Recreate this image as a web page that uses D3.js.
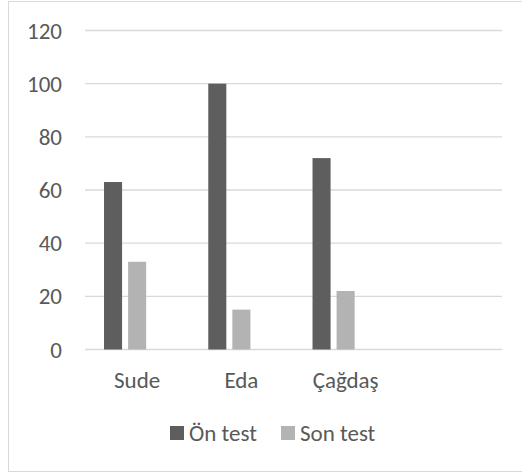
<!DOCTYPE html>
<html>
<head>
<meta charset="utf-8">
<script src="https://cdn.jsdelivr.net/npm/d3@7"></script>
<style>
  html, body { margin: 0; background: #fff; overflow: hidden; }
  svg { display: block; }
  text { font-family: Carlito, Calibri, "Open Sans", sans-serif; fill: #595959; }
</style>
</head>
<body>
<div id="chart"></div>
<script>
// Chart data
const categories = ["Sude", "Eda", "Çağdaş", ""];
const seriesNames = ["Ön test", "Son test", ""];
const onTest = [63, 100, 72, null];
const sonTest = [33, 15, 22, null];
const extra = [null, null, null, null];
const yTicks = [0, 20, 40, 60, 80, 100, 120];
const colors = ["#5e5e5e", "#b3b3b3", "#7f7f7f"];

const width = 522;
const height = 473;
const fontSize = "23px";

const svg = d3.select("#chart")
    .append("svg")
    .attr("width", width)
    .attr("height", height);

// Outer chart border
svg.append("rect")
    .attr("x", 8.5)
    .attr("y", 1.5)
    .attr("width", 530)
    .attr("height", 470)
    .attr("fill", "none")
    .attr("stroke", "#d9d9d9");

const x = d3.scaleBand()
    .domain(categories.map((d, i) => i))
    .range([85, 502])
    .paddingInner(0)
    .paddingOuter(0);

const y = d3.scaleLinear()
    .domain([0, 120])
    .range([349.5, 30.5]);

// Gridlines
svg.append("g")
    .selectAll("line")
    .data(yTicks)
    .join("line")
    .attr("x1", 85)
    .attr("x2", 502)
    .attr("y1", d => y(d))
    .attr("y2", d => y(d))
    .attr("stroke", "#d9d9d9")
    .attr("stroke-width", 1.3);

// Y tick labels
svg.append("g")
    .selectAll("text")
    .data(yTicks)
    .join("text")
    .attr("x", 62)
    .attr("y", d => y(d))
    .attr("dy", "0.35em")
    .attr("text-anchor", "end")
    .style("font-size", fontSize)
    .text(d => d);

// Series inside each category: 3 slots (third is empty)
const series = [onTest, sonTest, extra];
const x1 = d3.scaleBand()
    .domain(d3.range(series.length))
    .range([0, x.bandwidth()])
    .paddingInner(0.25)
    .paddingOuter(0.79);

series.forEach((vals, s) => {
    svg.append("g")
        .selectAll("rect")
        .data(vals.map((v, i) => ({ v, i })).filter(d => d.v != null))
        .join("rect")
        .attr("x", d => x(d.i) + x1(s))
        .attr("y", d => y(d.v))
        .attr("width", x1.bandwidth())
        .attr("height", d => y(0) - y(d.v))
        .attr("fill", colors[s]);
});

// X category labels
svg.append("g")
    .selectAll("text")
    .data(categories)
    .join("text")
    .attr("x", (d, i) => x(i) + x.bandwidth() / 2)
    .attr("y", 380)
    .attr("dy", "0.35em")
    .attr("text-anchor", "middle")
    .style("font-size", fontSize)
    .text(d => d);

// Legend
const legendItems = [
    { name: seriesNames[0], color: colors[0], x: 170 },
    { name: seriesNames[1], color: colors[1], x: 281 }
];
const legend = svg.append("g");
legend.selectAll("rect")
    .data(legendItems)
    .join("rect")
    .attr("x", d => d.x)
    .attr("y", 426)
    .attr("width", 14)
    .attr("height", 14)
    .attr("fill", d => d.color);
legend.selectAll("text")
    .data(legendItems)
    .join("text")
    .attr("x", d => d.x + 19)
    .attr("y", 433)
    .attr("dy", "0.35em")
    .style("font-size", fontSize)
    .text(d => d.name);
</script>
</body>
</html>
